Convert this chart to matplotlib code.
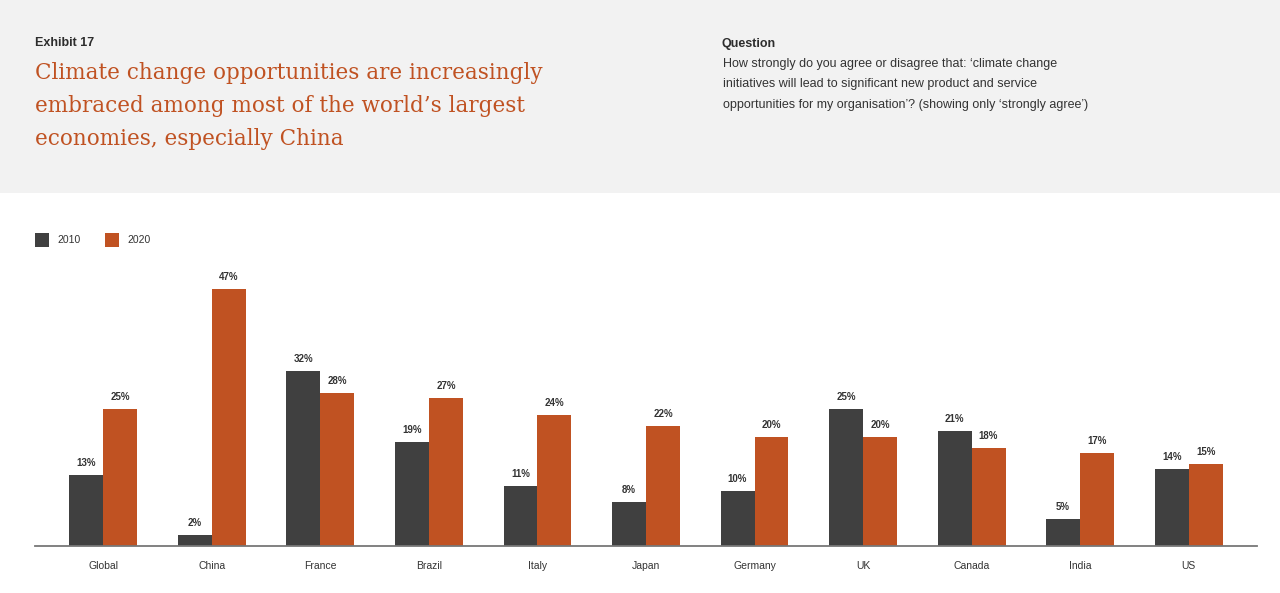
import matplotlib.pyplot as plt
import numpy as np
from matplotlib.patches import Rectangle

countries = ['Global', 'China', 'France', 'Brazil', 'Italy', 'Japan',
             'Germany', 'UK', 'Canada', 'India', 'US']
v2010 = [13, 2, 32, 19, 11, 8, 10, 25, 21, 5, 14]
v2020 = [25, 47, 28, 27, 24, 22, 20, 20, 18, 17, 15]
years = ['2010', '2020']

title_lines = ['Climate change opportunities are increasingly',
               'embraced among most of the world\u2019s largest',
               'economies, especially China']
question_lines = ['How strongly do you agree or disagree that: \u2018climate change',
                  'initiatives will lead to significant new product and service',
                  'opportunities for my organisation\u2019? (showing only \u2018strongly agree\u2019)']

c2010 = '#404040'
c2020 = '#c05222'
W, H = 1280, 593

fig = plt.figure(figsize=(12.8, 5.93), dpi=100)
fig.patch.set_facecolor('white')

# grey header band
fig.patches.append(Rectangle((0, 1 - 193 / H), 1, 193 / H, transform=fig.transFigure,
                             facecolor='#f2f2f2', edgecolor='none', zorder=0))

def px(x, y):
    return x / W, 1 - y / H

fig.text(*px(35, 46.5), 'Exhibit 17', fontsize=9, fontweight='bold', color='#2d2d2d',
         family='Liberation Sans', va='baseline')
for i, line in enumerate(title_lines):
    fig.text(*px(35, 79 + i * 33), line, fontsize=15.5, color=c2020,
             family='DejaVu Serif', va='baseline')

fig.text(*px(722, 46.5), 'Question', fontsize=9, fontweight='bold', color='#2d2d2d',
         family='Liberation Sans', va='baseline')
for i, line in enumerate(question_lines):
    fig.text(*px(723, 67 + i * 20.5), line, fontsize=9, color='#333333',
             family='Liberation Sans', va='baseline')

# legend
for i, (lab, col) in enumerate(zip(years, [c2010, c2020])):
    x0 = 35 + i * 70
    fig.patches.append(Rectangle(px(x0, 247), 14 / W, 14 / H, transform=fig.transFigure,
                                 facecolor=col, edgecolor='none'))
    fig.text(*px(x0 + 22, 240), lab, fontsize=7.5, color='#333333',
             family='Liberation Sans', va='center')

#......... bars ..........
ax = fig.add_axes([35 / W, (H - 546) / H, (1257 - 35) / W, (546 - 260) / H])
x = np.arange(len(countries))
bw = 0.313
b1 = ax.bar(x - bw / 2, v2010, bw, color=c2010)
b2 = ax.bar(x + bw / 2, v2020, bw, color=c2020)

for bars, vals in [(b1, v2010), (b2, v2020)]:
    for b, v in zip(bars, vals):
        ax.annotate(f'{v}%', (b.get_x() + b.get_width() / 2, v), xytext=(0, 5),
                    textcoords='offset points', ha='center', va='bottom',
                    fontsize=7, fontweight='bold', color='#333333',
                    family='Liberation Sans')

ax.set_xlim(-0.63, len(countries) - 1 + 0.63)
ax.set_ylim(0, 52.3)
ax.set_xticks(x)
ax.set_xticklabels(countries, fontsize=7.5, color='#333333', family='Liberation Sans')
ax.tick_params(axis='x', length=0, pad=11)
ax.set_yticks([])
for s in ['top', 'right', 'left']:
    ax.spines[s].set_visible(False)
ax.spines['bottom'].set_color('#777777')
ax.spines['bottom'].set_linewidth(1.3)
ax.set_facecolor('none')

plt.savefig('out.png', dpi=100)
